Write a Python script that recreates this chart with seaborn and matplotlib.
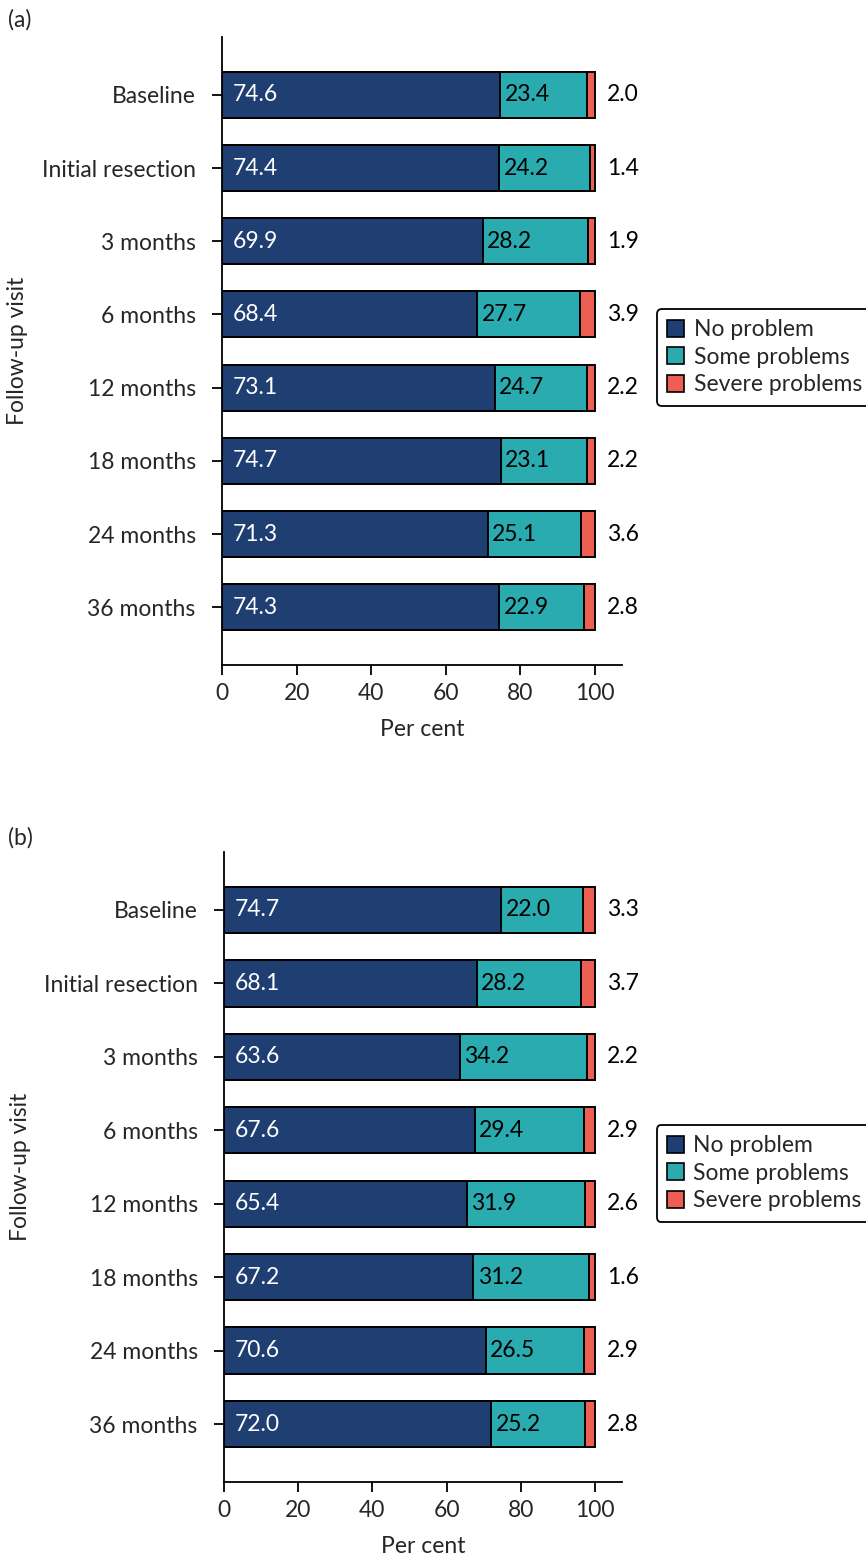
import matplotlib
matplotlib.use("Agg")
import matplotlib.pyplot as plt
import pandas as pd
import seaborn as sns

# ─── Data ───
VISITS = ["Baseline", "Initial resection", "3 months", "6 months",
          "12 months", "18 months", "24 months", "36 months"]

no_problem_a = [74.6, 74.4, 69.9, 68.4, 73.1, 74.7, 71.3, 74.3]
some_problems_a = [23.4, 24.2, 28.2, 27.7, 24.7, 23.1, 25.1, 22.9]
severe_problems_a = [2.0, 1.4, 1.9, 3.9, 2.2, 2.2, 3.6, 2.8]

no_problem_b = [74.7, 68.1, 63.6, 67.6, 65.4, 67.2, 70.6, 72.0]
some_problems_b = [22.0, 28.2, 34.2, 29.4, 31.9, 31.2, 26.5, 25.2]
severe_problems_b = [3.3, 3.7, 2.2, 2.9, 2.6, 1.6, 2.9, 2.8]

SERIES = ["No problem", "Some problems", "Severe problems"]
COLORS = ["#1f3e72", "#2aabb0", "#ec5f52"]

sns.set_style("ticks")
plt.rcParams["font.family"] = ["Lato", "DejaVu Sans"]
FS = 16.5


def draw_panel(ax, no, some, severe):
    df = pd.DataFrame({"visit": VISITS, "no": no, "some": some, "severe": severe})
    df["cum_some"] = df["no"] + df["some"]
    df["cum_all"] = df["cum_some"] + df["severe"]

    # layered cumulative bars -> stacked look
    for col, color in zip(["cum_all", "cum_some", "no"], COLORS[::-1]):
        sns.barplot(data=df, x=col, y="visit", order=VISITS, color=color,
                    orient="h", width=0.63, edgecolor="black", linewidth=1.4,
                    saturation=1, ax=ax)

    for i, row in df.iterrows():
        ax.text(2.8, i, f"{row['no']:.1f}", color="white", va="center",
                ha="left", fontsize=FS)
        ax.text(row["no"] + 1.2, i, f"{row['some']:.1f}", color="black",
                va="center", ha="left", fontsize=FS)
        ax.text(row["cum_all"] + 3.2, i, f"{row['severe']:.1f}", color="black",
                va="center", ha="left", fontsize=FS)

    ax.set_xlim(0, 107.3)
    ax.set_ylim(7.79, -0.79)
    ax.set_xticks([0, 20, 40, 60, 80, 100])
    ax.tick_params(axis="both", labelsize=FS, length=7, width=1.3, color="black")
    ax.tick_params(axis="y", pad=12)
    ax.tick_params(axis="x", pad=6)
    ax.set_xlabel("Per cent", fontsize=FS)
    ax.set_ylabel("Follow-up visit", fontsize=FS)
    ax.yaxis.set_label_coords(-0.485, 0.5)
    ax.xaxis.set_label_coords(0.5, -0.086)
    sns.despine(ax=ax)
    for s in ["left", "bottom"]:
        ax.spines[s].set_linewidth(1.3)
        ax.spines[s].set_color("black")

    handles = [plt.Rectangle((0, 0), 1, 1, facecolor=c, edgecolor="black", linewidth=1.2)
               for c in COLORS]
    leg = ax.legend(handles, SERIES, loc="center left", bbox_to_anchor=(1.087, 0.49),
                    fontsize=FS, frameon=True, fancybox=True, handlelength=0.75,
                    handleheight=0.75, handletextpad=0.4, labelspacing=0.28,
                    borderpad=0.45, borderaxespad=0)
    leg.get_frame().set_edgecolor("black")
    leg.get_frame().set_linewidth(1.3)
    leg.get_frame().set_alpha(1)


fig = plt.figure(figsize=(8.66, 15.55), dpi=100)
ax_a = fig.add_axes([0.2564, 0.5723, 0.462, 0.4039])
ax_b = fig.add_axes([0.2587, 0.0469, 0.4596, 0.4052])

draw_panel(ax_a, no_problem_a, some_problems_a, severe_problems_a)
draw_panel(ax_b, no_problem_b, some_problems_b, severe_problems_b)

fig.text(8 / 866, 1 - 20 / 1555, "(a)", fontsize=FS, va="center", ha="left")
fig.text(8 / 866, 1 - 838 / 1555, "(b)", fontsize=FS, va="center", ha="left")

fig.savefig("out.png", dpi=100)
